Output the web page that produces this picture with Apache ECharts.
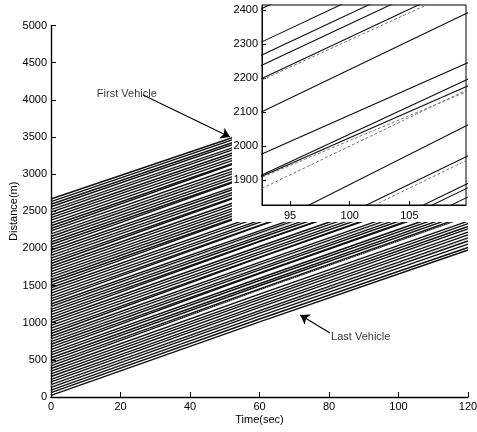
<!DOCTYPE html>
<html>
<head>
<meta charset="utf-8">
<title>Vehicle trajectories</title>
<script src="https://cdn.jsdelivr.net/npm/echarts@6/dist/echarts.min.js"></script>
<style>
  html, body { margin: 0; padding: 0; background: #fff; }
  #chart { width: 477px; height: 432px; }
</style>
</head>
<body>
<div id="chart"></div>
<script>
// sample times of every trajectory (sec)
var times = [0, 60, 120];

// distance (m) of each vehicle at t = 0 / 60 / 120, first vehicle first
var dist0 = [2665, 2630, 2594, 2561, 2522, 2488, 2450, 2414, 2380, 2341, 2305, 2268, 2235, 2196, 2160,
  2124, 2086, 2052, 2013, 1978, 1942, 1905, 1870, 1832, 1797, 1760, 1724, 1688, 1651, 1616,
  1578, 1544, 1506, 1470, 1435, 1398, 1362, 1325, 1290, 1252, 1218, 1180, 1145, 1108, 1072,
  1036, 1000, 963, 928, 890, 855, 818, 783, 746, 710, 674, 638, 600, 566, 528,
  494, 456, 420, 384, 348, 311, 276, 238, 203, 166, 130, 93, 58, 22];
var dist60 = [3614, 3585, 3546, 3521, 3478, 3450, 3408, 3379, 3340, 3309, 3267, 3258, 3200, 3164, 3132,
  3090, 3061, 3022, 3013, 2946, 2917, 2877, 2848, 2806, 2799, 2736, 2704, 2663, 2633, 2594,
  2563, 2524, 2516, 2452, 2421, 2378, 2350, 2309, 2302, 2237, 2208, 2166, 2137, 2096, 2090,
  2026, 1994, 1953, 1924, 1882, 1877, 1812, 1781, 1739, 1710, 1670, 1662, 1598, 1568, 1524,
  1497, 1454, 1446, 1384, 1344, 1315, 1276, 1236, 1207, 1161, 1130, 1089, 1050, 1010];
var dist120 = [4560, 4535, 4504, 4469, 4433, 4400, 4365, 4331, 4300, 4264, 4229, 4208, 4165, 4124, 4090,
  4056, 4021, 3990, 3975, 3916, 3882, 3849, 3814, 3781, 3767, 3708, 3672, 3641, 3603, 3570,
  3535, 3504, 3491, 3430, 3396, 3360, 3326, 3292, 3280, 3217, 3184, 3150, 3115, 3081, 3070,
  3008, 2972, 2939, 2904, 2870, 2859, 2797, 2761, 2727, 2692, 2660, 2647, 2584, 2548, 2514,
  2481, 2446, 2431, 2368, 2334, 2295, 2262, 2218, 2182, 2141, 2100, 2057, 2012, 1978];

// simulated (dotted) trajectories that show beside the measured ones
var simDist0 = [2512, 2185, 1893, 1605, 1207, 771, 444, 155];
var simDist60 = [3466, 3150, 2866, 2580, 2195, 1770, 1442, 1150];
var simDist120 = [4420, 4110, 3835, 3556, 3170, 2748, 2434, 2128];

// inset: distance (m) at t = 90 and t = 112
var zoomTimes = [90, 112];
var zoomSolidA = [2361, 2263, 2224, 2194, 2155, 2056, 1935, 1871, 1870, 1709, 1632, 1551, 1540, 1511];
var zoomSolidB = [2724, 2626, 2587, 2557, 2518, 2428, 2278, 2231, 2209, 2099, 2006, 1925, 1912, 1885];
var zoomDashA = [2152, 1869, 1830, 1620];
var zoomDashB = [2504, 2192, 2202, 1995];

var notes = [
  { name: 'First Vehicle', text: [13.2, 4078], from: [26.5, 4065], to: [51.5, 3499] },
  { name: 'Last Vehicle', text: [80.6, 808], from: [80.3, 861], to: [71.7, 1104] }
];

var font = 'Liberation Sans, Arial, Helvetica, sans-serif';
var chart = echarts.init(document.getElementById('chart'));

var series = [];
dist0.forEach(function (d, i) {
  series.push({
    type: 'line', xAxisIndex: 0, yAxisIndex: 0, silent: true,
    showSymbol: false, symbol: 'none', z: 2,
    lineStyle: { color: '#111', width: 1.4 },
    data: [[times[0], d], [times[1], dist60[i]], [times[2], dist120[i]]]
  });
});
simDist0.forEach(function (d, i) {
  series.push({
    type: 'line', xAxisIndex: 0, yAxisIndex: 0, silent: true,
    showSymbol: false, symbol: 'none', z: 3,
    lineStyle: { color: '#999', width: 1, type: 'dotted' },
    data: [[times[0], d], [times[1], simDist60[i]], [times[2], simDist120[i]]]
  });
});
zoomSolidA.forEach(function (d, i) {
  series.push({
    type: 'line', xAxisIndex: 1, yAxisIndex: 1, silent: true,
    showSymbol: false, symbol: 'none', z: 60,
    lineStyle: { color: '#111', width: 1.1 },
    data: [[zoomTimes[0], d], [zoomTimes[1], zoomSolidB[i]]]
  });
});
zoomDashA.forEach(function (d, i) {
  series.push({
    type: 'line', xAxisIndex: 1, yAxisIndex: 1, silent: true,
    showSymbol: false, symbol: 'none', z: 61,
    lineStyle: { color: '#777', width: 1, type: [3, 2] },
    data: [[zoomTimes[0], d], [zoomTimes[1], zoomDashB[i]]]
  });
});

// arrows and their captions
series.push({
  type: 'line', xAxisIndex: 0, yAxisIndex: 0, data: [], silent: true, z: 5,
  markLine: {
    silent: true, symbol: ['none', 'arrow'], symbolSize: 9,
    lineStyle: { color: '#000', width: 1.2, type: 'solid' },
    label: { show: false },
    data: notes.map(function (n) { return [{ coord: n.from }, { coord: n.to }]; })
  }
});
series.push({
  type: 'scatter', xAxisIndex: 0, yAxisIndex: 0, symbolSize: 0, silent: true,
  label: { show: true, formatter: '{b}', position: 'right', distance: 0,
    color: '#000', fontSize: 11, fontFamily: font },
  data: notes.map(function (n) { return { name: n.name, value: n.text }; })
});

function plain(v) { return String(v); }

var axisCommon = {
  axisLine: { show: true, lineStyle: { color: '#000', width: 1.4 } },
  axisTick: { show: true, inside: true, length: 5, lineStyle: { color: '#000', width: 1 } },
  splitLine: { show: false },
  axisLabel: { color: '#000', fontSize: 11, fontFamily: font, margin: 4, formatter: plain },
  nameTextStyle: { color: '#000', fontSize: 11, fontFamily: font },
  nameMoveOverlap: false
};
var insetLabel = { color: '#000', fontSize: 11, fontFamily: font, margin: 4, formatter: plain,
  showMinLabel: false, showMaxLabel: false };

var option = {
  animation: false,
  backgroundColor: '#fff',
  grid: [
    { left: 51, right: 9, top: 25.5, bottom: 35, outerBoundsMode: 'none', containLabel: false },
    { left: 262, top: 5, width: 204, height: 200, show: true, z: 60,
      outerBoundsMode: 'none', containLabel: false,
      borderColor: '#000', borderWidth: 1, backgroundColor: 'transparent' }
  ],
  graphic: [
    // white panel of the inset, hides the trajectories behind it
    { type: 'rect', z: 50, silent: true, shape: { x: 232, y: 0, width: 245, height: 222 },
      style: { fill: '#fff' } }
  ],
  xAxis: [
    Object.assign({}, axisCommon, {
      type: 'value', gridIndex: 0, min: 0, max: 120, interval: 20,
      name: 'Time(sec)', nameLocation: 'middle', nameGap: 17
    }),
    Object.assign({}, axisCommon, {
      type: 'value', gridIndex: 1, min: 92.65, max: 109.75, splitNumber: 3, z: 60,
      axisLine: { show: true, lineStyle: { color: '#000', width: 1 } },
      axisTick: { show: true, inside: true, length: 4, lineStyle: { color: '#000' } },
      axisLabel: Object.assign({}, insetLabel, { margin: 5 })
    })
  ],
  yAxis: [
    Object.assign({}, axisCommon, {
      type: 'value', gridIndex: 0, min: 0, max: 5000, interval: 500,
      name: 'Distance(m)', nameLocation: 'middle', nameGap: 32
    }),
    Object.assign({}, axisCommon, {
      type: 'value', gridIndex: 1, min: 1826, max: 2415, splitNumber: 5, z: 60,
      axisLine: { show: true, lineStyle: { color: '#000', width: 1 } },
      axisTick: { show: true, inside: true, length: 4, lineStyle: { color: '#000' } },
      axisLabel: insetLabel
    })
  ],
  series: series
};

chart.setOption(option);
</script>
</body>
</html>
